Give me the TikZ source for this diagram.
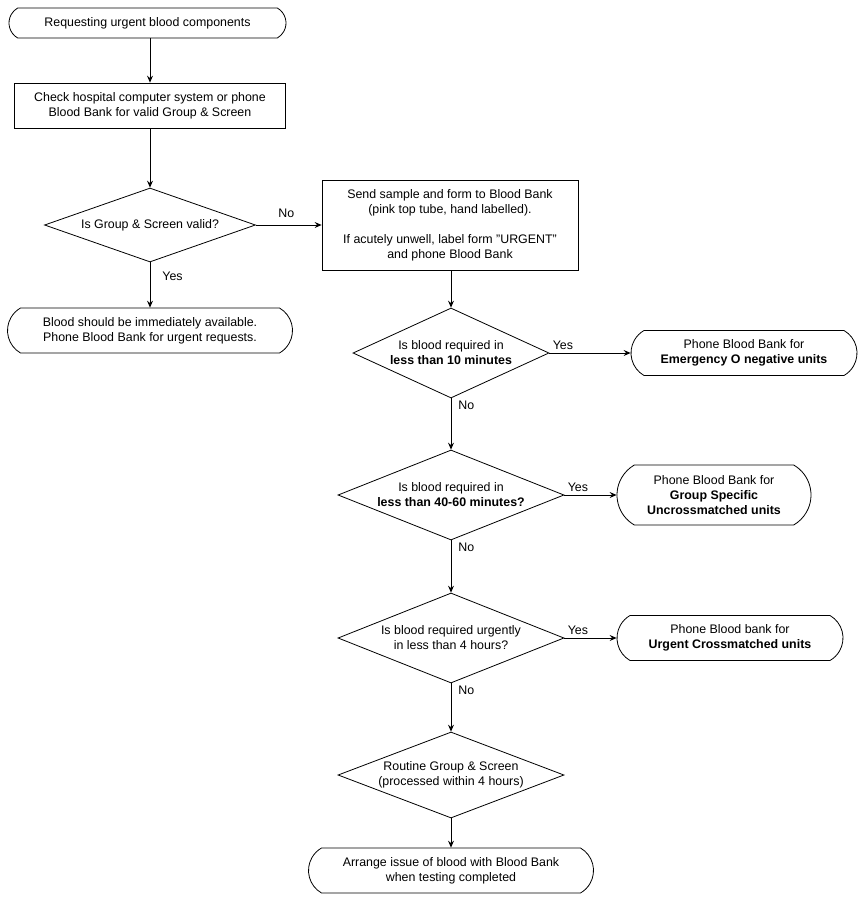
\documentclass[tikz,border=0pt]{standalone}
\usepackage{fontspec}
\setmainfont{Liberation Sans}
\usetikzlibrary{shapes.geometric,shapes.misc,arrows.meta}
\begin{document}
\begin{tikzpicture}[x=1pt,y=-1pt,
  every node/.style={font=\fontsize{12.4}{15}\selectfont},
  term/.style={draw, rounded rectangle, rounded rectangle arc length=120, align=center, inner sep=0pt, line width=0.8pt},
  box/.style={draw, rectangle, align=center, inner sep=0pt, line width=0.8pt},
  dec/.style={draw, diamond, aspect=2.5, align=center, inner sep=0pt, line width=0.8pt},
  arr/.style={line width=0.8pt, -{Stealth[length=7pt,width=6pt,inset=2.5pt]}},
  lbl/.style={inner sep=1pt}]
\useasboundingbox (0,0) rectangle (863,900);
% left column
\node[term, minimum width=277pt, minimum height=30pt] (start) at (147.5,23) {Requesting urgent blood components};
\node[box, minimum width=271pt, minimum height=45pt] (check) at (150,105.5) {Check hospital computer system or phone\\Blood Bank for valid Group \& Screen};
\node[dec, minimum width=211pt, minimum height=74pt] (d1) at (150,225) {Is Group \& Screen valid?};
\node[term, minimum width=285pt, minimum height=45pt] (avail) at (150,330.5) {Blood should be immediately available.\\Phone Blood Bank for urgent requests.};
% right column
\node[box, minimum width=256pt, minimum height=90pt] (send) at (450,225) {Send sample and form to Blood Bank\\(pink top tube, hand labelled).\\[15pt]If acutely unwell, label form \symbol{34}URGENT\symbol{34}\\and phone Blood Bank};
\node[dec, minimum width=196pt, minimum height=90pt] (d2) at (451,353) {Is blood required in\\\textbf{less than 10 minutes}};
\node[term, minimum width=226pt, minimum height=45pt] (t2) at (744,353) {Phone Blood Bank for\\\textbf{Emergency O negative units}};
\node[dec, minimum width=226pt, minimum height=90pt] (d3) at (451,495) {Is blood required in\\\textbf{less than 40-60 minutes?}};
\node[term, minimum width=194pt, minimum height=60pt] (t3) at (714,495) {Phone Blood Bank for\\\textbf{Group Specific}\\\textbf{Uncrossmatched units}};
\node[dec, minimum width=226pt, minimum height=90pt] (d4) at (451,638) {Is blood required urgently\\in less than 4 hours?};
\node[term, minimum width=226pt, minimum height=45pt] (t4) at (730,638) {Phone Blood bank for\\\textbf{Urgent Crossmatched units}};
\node[dec, minimum width=226pt, minimum height=86pt] (d5) at (451,775) {Routine Group \& Screen\\(processed within 4 hours)};
\node[term, minimum width=285pt, minimum height=45pt] (t5) at (451,870.5) {Arrange issue of blood with Blood Bank\\when testing completed};
% connectors
\draw[arr] (start.south -| check.north) -- (check.north);
\draw[arr] (check.south) -- (d1.north);
\draw[arr] (d1.east) -- node[lbl, anchor=south west, pos=0, xshift=21pt, yshift=6pt]{No} (send.west);
\draw[arr] (d1.south) -- node[lbl, anchor=north west, pos=0, xshift=11pt, yshift=-8pt]{Yes} (avail.north);
\draw[arr] (send.south -| d2.north) -- (d2.north);
\draw[arr] (d2.east) -- node[lbl, anchor=south west, pos=0, xshift=2pt, yshift=2pt]{Yes} (t2.west);
\draw[arr] (d2.south) -- node[lbl, anchor=north west, pos=0, xshift=6pt, yshift=-1pt]{No} (d3.north);
\draw[arr] (d3.east) -- node[lbl, anchor=south west, pos=0, xshift=2pt, yshift=2pt]{Yes} (t3.west);
\draw[arr] (d3.south) -- node[lbl, anchor=north west, pos=0, xshift=6pt, yshift=-1pt]{No} (d4.north);
\draw[arr] (d4.east) -- node[lbl, anchor=south west, pos=0, xshift=2pt, yshift=2pt]{Yes} (t4.west);
\draw[arr] (d4.south) -- node[lbl, anchor=north west, pos=0, xshift=6pt, yshift=-1pt]{No} (d5.north);
\draw[arr] (d5.south) -- (t5.north);
\end{tikzpicture}
\end{document}
